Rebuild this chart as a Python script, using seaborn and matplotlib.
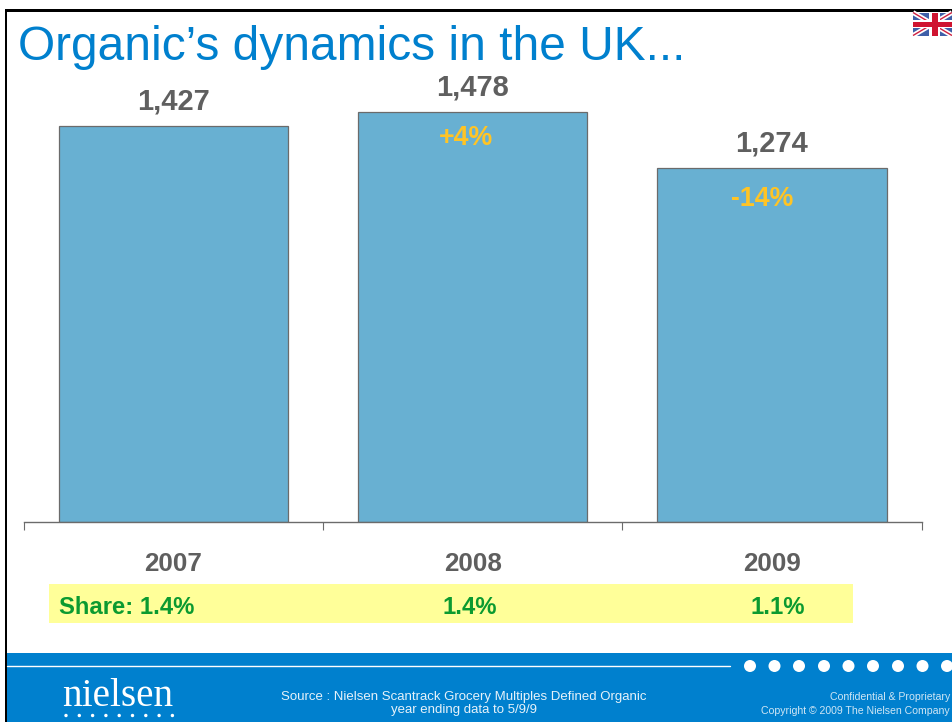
import pandas as pd
import matplotlib
matplotlib.use('Agg')
import matplotlib.pyplot as plt
from matplotlib.patches import Rectangle, Circle
import seaborn as sns

#chart values
years = ['2007', '2008', '2009']
sales = [1427, 1478, 1274]
sales_labels = ['1,427', '1,478', '1,274']
growth_labels = ['', '+4%', '-14%']
share_labels = ['Share: 1.4%', '1.4%', '1.1%']

BLUE = '#0080CE'
GREY = '#5F5F5F'
sns.set_theme(style='white')
plt.rcParams['font.family'] = ['Liberation Sans', 'DejaVu Sans']

W, H = 952, 722
fig = plt.figure(figsize=(W / 100, H / 100), dpi=100, facecolor='white')

#page furniture is drawn on a full figure axes in pixel coordinates
page = fig.add_axes([0, 0, 1, 1], zorder=0)
page.set_xlim(0, W)
page.set_ylim(H, 0)
page.axis('off')

page.add_patch(Rectangle((4.5, 9), 2.5, H - 9, color='black', lw=0))
page.add_patch(Rectangle((4.5, 9), W, 2.5, color='black', lw=0))
page.add_patch(Rectangle((7, 653), W, 69, color=BLUE, lw=0))
page.add_patch(Rectangle((49, 584), 804, 39, color='#FFFF99', lw=0))
page.plot([7, 730], [666, 666], color='white', lw=1)
for cx in [750, 774.5, 799, 824, 848.5, 873, 898, 922.5, 947]:
    page.add_patch(Circle((cx, 666), 6, color='white', lw=0))

#union flag
page.add_patch(Rectangle((913, 12.5), 39, 23, color='#3F5FA8', lw=0))
for a, b in [((913, 12.5), (952, 35.5)), ((913, 35.5), (952, 12.5))]:
    page.plot([a[0], b[0]], [a[1], b[1]], color='white', lw=3.5, solid_capstyle='butt')
    page.plot([a[0], b[0]], [a[1], b[1]], color='#CF1F3F', lw=1, solid_capstyle='butt')
page.add_patch(Rectangle((929, 12.5), 11, 23, color='white', lw=0, zorder=3))
page.add_patch(Rectangle((913, 20), 39, 8, color='white', lw=0, zorder=3))
page.add_patch(Rectangle((931.5, 12.5), 6, 23, color='#CF1430', lw=0, zorder=4))
page.add_patch(Rectangle((913, 21.5), 39, 5, color='#CF1430', lw=0, zorder=4))

page.text(18, 47, 'Organic\u2019s dynamics in the UK...', color=BLUE, fontsize=34.5,
          ha='left', va='center')

#logo
page.text(118, 697, 'nielsen', color='white', fontsize=28.3, family='Liberation Serif',
          ha='center', va='center')
for cx in range(0, 9):
    page.add_patch(Circle((66 + cx * 13.3, 715.5), 1.7, color='white', lw=0))

page.text(464, 703.5, 'Source : Nielsen Scantrack Grocery Multiples Defined Organic\nyear ending data to 5/9/9',
          color='#E6F2FA', fontsize=9.55, ha='center', va='center', linespacing=1.1)
page.text(950, 704, 'Confidential & Proprietary\nCopyright \u00a9 2009 The Nielsen Company',
          color='#CFE6F5', fontsize=7.6, ha='right', va='center', linespacing=1.4)

#bar chart, baseline at y=522 px
px_per_unit = 396 / 1427
top_px = 60
ax = fig.add_axes([23.6 / W, 1 - 522 / H, (921.6 - 23.6) / W, (522 - top_px) / H], zorder=1)
ax.patch.set_alpha(0)
df = pd.DataFrame({'year': years, 'sales': sales})
sns.barplot(data=df, x='year', y='sales', color='#68B0D2', saturation=1, width=0.766,
            edgecolor='#6B6B6B', linewidth=0.9, ax=ax)
ax.set_xlim(-0.5, 2.5)
ax.set_ylim(0, (522 - top_px) / px_per_unit)
ax.set_xlabel('')
ax.set_ylabel('')
ax.set_yticks([])
sns.despine(ax=ax, left=True)
ax.spines['bottom'].set_color('#6B6B6B')
ax.spines['bottom'].set_linewidth(1)
ax.set_xticks([-0.5, 0.5, 1.5, 2.5], minor=True)
ax.tick_params(axis='x', which='minor', bottom=True, length=6, width=0.8, color='#6B6B6B')
ax.tick_params(axis='x', which='major', bottom=False, length=0, pad=21.5, labelsize=18.7, labelcolor=GREY)
for lab in ax.get_xticklabels():
    lab.set_fontweight('bold')

#offsets of the growth labels from the top centre of their bar, in points
growth_dx = [0, -5, -7.2]
growth_dy = [0, -19, -22]
for i, v in enumerate(sales):
    ax.annotate(sales_labels[i], (i, v), xytext=(0, 17.7), textcoords='offset points',
                ha='center', va='center', fontsize=21, fontweight='bold', color=GREY)
    if growth_labels[i]:
        ax.annotate(growth_labels[i], (i, v), xytext=(growth_dx[i], growth_dy[i]),
                    textcoords='offset points', ha='center', va='center', fontsize=19.3,
                    fontweight='bold', color='#FFC425')

#share row sits under each year
for x_px, lab, align in zip([59, 470, 778], share_labels, ['left', 'center', 'center']):
    page.text(x_px, 607, lab, color='#0B9A30', fontsize=17.2, fontweight='bold', ha=align, va='center')

fig.savefig('out.png', dpi=100)
